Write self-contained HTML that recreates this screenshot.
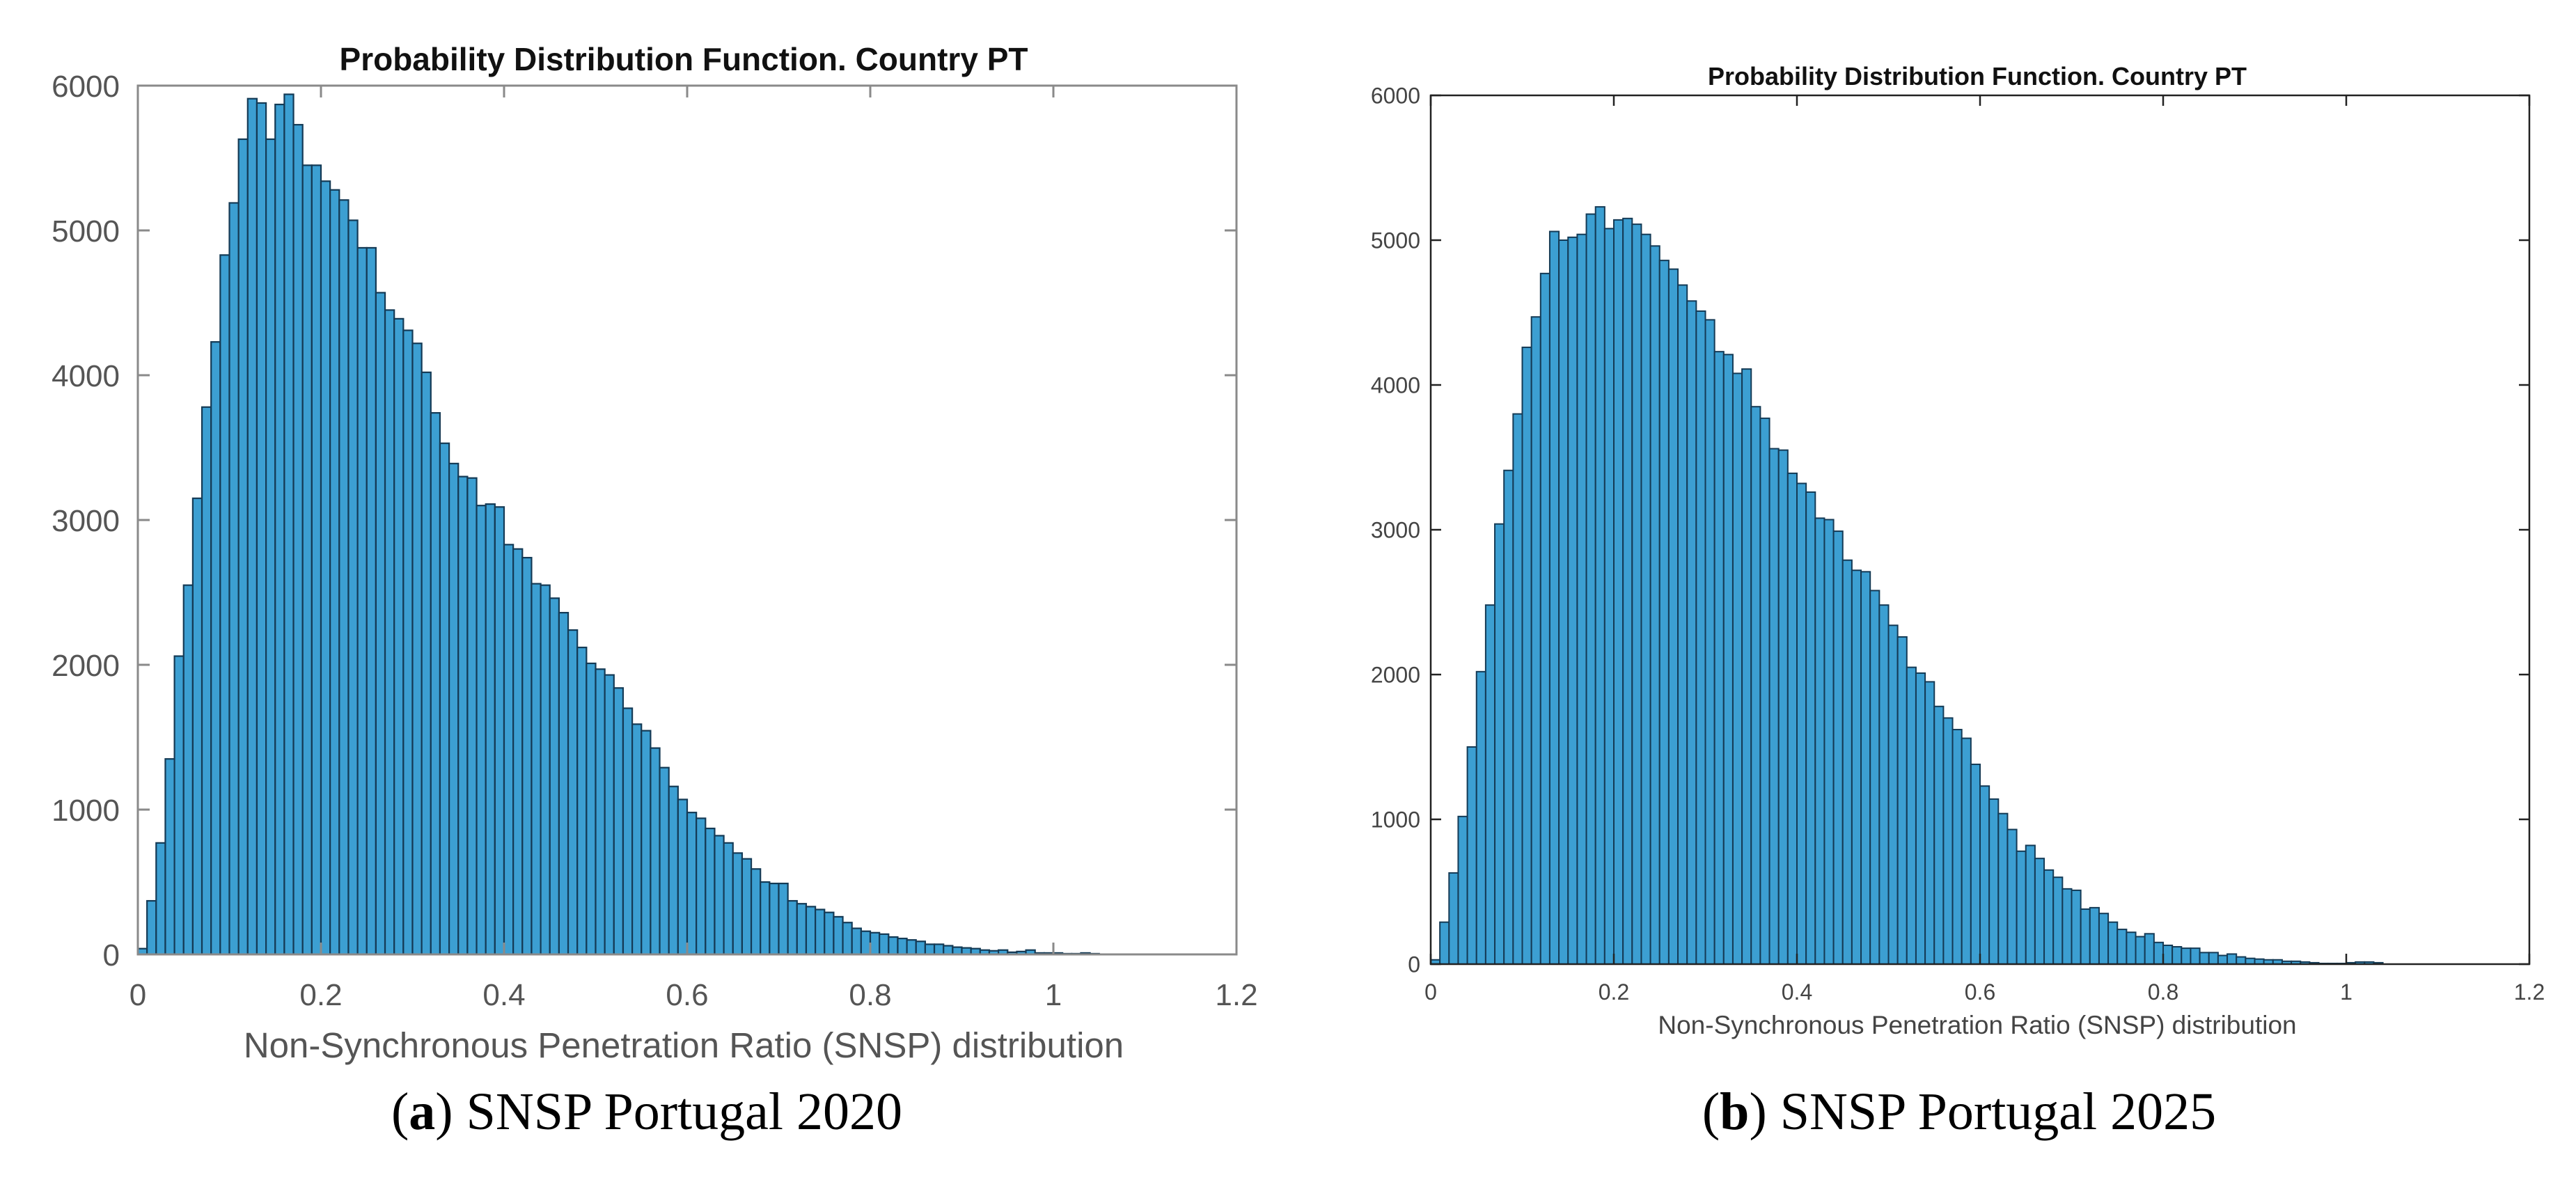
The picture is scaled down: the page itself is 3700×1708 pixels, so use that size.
<!DOCTYPE html>
<html><head><meta charset="utf-8"><style>
html,body{margin:0;padding:0;background:#fff;}
svg{display:block;}
</style></head><body>
<svg id="fig" width="3700" height="1708" viewBox="0 0 3700 1708" xmlns="http://www.w3.org/2000/svg">
<rect width="3700" height="1708" fill="#fff"/>
<g id="chartA"></g>
<g id="chartB"></g>
<text x="929" y="1622" text-anchor="middle" font-family="Liberation Serif, serif" font-size="76" fill="#000">(<tspan font-weight="bold">a</tspan>) SNSP Portugal 2020</text>
<text x="2814" y="1622" text-anchor="middle" font-family="Liberation Serif, serif" font-size="76" fill="#000">(<tspan font-weight="bold">b</tspan>) SNSP Portugal 2025</text>
</svg>
<script>
const binWidth = 0.01;
const xTicks = [0, 0.2, 0.4, 0.6, 0.8, 1, 1.2];
const xTickLabels = ["0", "0.2", "0.4", "0.6", "0.8", "1", "1.2"];
const yTicks = [0, 1000, 2000, 3000, 4000, 5000, 6000];
const yTickLabels = ["0", "1000", "2000", "3000", "4000", "5000", "6000"];
const counts2020 = [40,370,770,1350,2060,2550,3150,3780,4230,4830,5190,5630,5910,5880,5630,5870,5940,5730,5450,5450,5340,5280,5210,5070,4880,4880,4570,4450,4390,4310,4220,4020,3740,3530,3390,3300,3290,3100,3110,3090,2830,2800,2740,2560,2550,2460,2360,2240,2120,2010,1970,1930,1840,1700,1590,1545,1425,1290,1160,1070,980,940,870,820,770,700,660,590,500,490,490,370,350,330,310,290,260,220,180,160,150,140,120,110,100,90,70,70,60,50,45,40,30,25,30,15,20,30,10,10,10,5,5,10,5];
const counts2025 = [30,290,630,1020,1500,2020,2480,3040,3410,3800,4260,4470,4770,5060,5000,5020,5040,5180,5230,5080,5140,5150,5110,5040,4960,4860,4800,4690,4580,4510,4450,4230,4210,4080,4110,3850,3770,3560,3550,3390,3320,3260,3080,3070,2990,2790,2720,2710,2580,2480,2340,2260,2050,2010,1950,1780,1700,1620,1560,1380,1230,1140,1040,930,780,820,730,650,600,520,510,380,390,350,290,240,220,190,210,150,130,120,110,110,80,80,60,70,50,40,35,30,30,20,20,15,10,5,5,5,10,15,15,10];

const NS = "http://www.w3.org/2000/svg";
function mk(parent, tag, attrs, text) {
  const e = document.createElementNS(NS, tag);
  for (const k in attrs) e.setAttribute(k, attrs[k]);
  if (text !== undefined) e.textContent = text;
  parent.appendChild(e);
  return e;
}

function drawChart(g, cfg, counts, prefix) {
  const xS = v => cfg.x0 + (v - 0) / 1.2 * (cfg.x1 - cfg.x0);
  const yS = v => cfg.y0 - v / 6000 * (cfg.y0 - cfg.y1);
  const font = "Liberation Sans, Arial, sans-serif";
  const bars = mk(g, "g", {});
  
  
  counts.forEach((c, i) => {
    const xa = xS(i * binWidth), xb = xS((i + 1) * binWidth);
    const r = mk(bars, "rect", {x: xa, y: yS(c), width: xb - xa, height: cfg.y0 - yS(c),
      fill: "#3c9fd2", stroke: "#143a55", "stroke-width": cfg.barStroke});
    
    
  });
  const box = mk(g, "rect", {x: cfg.x0, y: cfg.y1, width: cfg.x1 - cfg.x0, height: cfg.y0 - cfg.y1,
    fill: "none", stroke: cfg.axisColor, "stroke-width": cfg.axisW});
  
  
  xTicks.forEach((t, i) => {
    const x = xS(t);
    const l1 = mk(g, "line", {x1: x, x2: x, y1: cfg.y0, y2: cfg.y0 - cfg.tick, stroke: cfg.axisColor, "stroke-width": cfg.axisW});
    
    
    const l2 = mk(g, "line", {x1: x, x2: x, y1: cfg.y1, y2: cfg.y1 + cfg.tick, stroke: cfg.axisColor, "stroke-width": cfg.axisW});
    
    
    const tx = mk(g, "text", {x: x, y: cfg.xLabY, "text-anchor": "middle", "font-family": font, "font-size": cfg.tickFs, fill: cfg.textColor}, xTickLabels[i]);
    
    
  });
  yTicks.forEach((t, i) => {
    const y = yS(t);
    const l1 = mk(g, "line", {x1: cfg.x0, x2: cfg.x0 + cfg.tick, y1: y, y2: y, stroke: cfg.axisColor, "stroke-width": cfg.axisW});
    
    
    const l2 = mk(g, "line", {x1: cfg.x1, x2: cfg.x1 - cfg.tick, y1: y, y2: y, stroke: cfg.axisColor, "stroke-width": cfg.axisW});
    
    
    const tx = mk(g, "text", {x: cfg.yLabX, y: y + cfg.tickFs * 0.36, "text-anchor": "end", "font-family": font, "font-size": cfg.tickFs, fill: cfg.textColor}, yTickLabels[i]);
    
    
  });
  const ttl = mk(g, "text", {x: cfg.titleX, y: cfg.titleY, "text-anchor": "middle", "font-family": font, "font-size": cfg.titleFs, "font-weight": "bold", fill: "#111"}, "Probability Distribution Function. Country PT");
  
  
  const xl = mk(g, "text", {x: cfg.titleX, y: cfg.xTitleY, "text-anchor": "middle", "font-family": font, "font-size": cfg.xTitleFs, fill: cfg.textColor}, "Non-Synchronous Penetration Ratio (SNSP) distribution");
  
  
}

drawChart(document.getElementById("chartA"), {
  x0: 198, x1: 1776, y0: 1371, y1: 123, tick: 17, axisColor: "#8a8a8a", axisW: 3, barStroke: 2.2,
  tickFs: 44, textColor: "#555", yLabX: 172, xLabY: 1444, titleX: 982, titleY: 101, titleFs: 46,
  xTitleY: 1519, xTitleFs: 51
}, counts2020, "a");

drawChart(document.getElementById("chartB"), {
  x0: 2055, x1: 3633, y0: 1385, y1: 137, tick: 15, axisColor: "#222", axisW: 2.5, barStroke: 2,
  tickFs: 32, textColor: "#444", yLabX: 2040, xLabY: 1436, titleX: 2840, titleY: 122, titleFs: 36,
  xTitleY: 1485, xTitleFs: 37
}, counts2025, "b");
</script>
</body></html>
